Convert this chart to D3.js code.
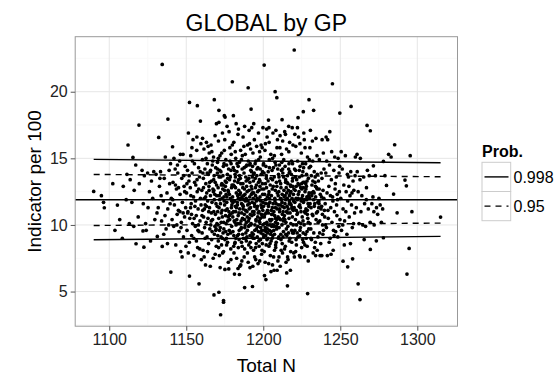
<!DOCTYPE html>
<html><head><meta charset="utf-8">
<script src="https://cdn.jsdelivr.net/npm/d3@7"></script>
<style>body{margin:0;background:#fff;} svg{display:block;font-family:"Liberation Sans",Arial,Helvetica,sans-serif;}</style>
</head><body><svg id="chart" width="558" height="375"></svg>
<script>
const chartTitle = "GLOBAL by GP";
const xLabel = "Total N";
const yLabel = "Indicator per 100";
const xTicks = [1100,1150,1200,1250,1300];
const yTicks = [5,10,15,20];
const xMinor = [1125,1175,1225,1275];
const yMinor = [2.5,7.5,12.5,17.5,22.5];
const legendTitle = "Prob.";
const probLevels = ["0.998","0.95"];
const limitN = [1089.9,1315.1];
const upper998 = [14.92,14.67];
const upper95 = [13.79,13.62];
const lower95 = [9.96,10.14];
const lower998 = [8.89,9.14];
const centreValue = 11.89;

const outlierPoints = [[1134.4,22.05],[1220.1,23.13],[1200.6,22.0],[1179.9,20.75],[1190.2,20.3],[1207.7,20.0],[1208.8,19.55],[1244.9,20.6],[1229.7,19.4],[1232.7,18.6],[1226,18.5],[1257,18.9],[1249.7,18.4],[1168.2,19.4],[1152.1,19.2],[1157.2,18.95],[1192.1,18.7],[1171.2,18.6],[1119.3,17.5],[1138.1,17.95],[1159.2,17.8],[1174.7,18.2],[1180.6,18.2],[1203.4,17.87],[1222.6,18.05],[1267.4,17.47],[1269.5,17.07],[1132.1,16.57],[1112.2,16.0],[1141.1,15.87],[1285.3,16.02],[1281.4,15.3],[1283,15.1],[1295.4,15.2],[1115.4,15.07],[1117.2,14.5],[1278,14.77],[1271.5,14.44],[1089.9,12.52],[1094.9,12.2],[1096.3,11.7],[1096.8,11.29],[1105.3,11.49],[1114.7,11.7],[1108.5,9.0],[1117.4,8.59],[1122.5,8.33],[1131.2,9.14],[1134.4,8.39],[1140,6.46],[1152.1,6.16],[1158.3,5.58],[1168,4.75],[1171.2,4.95],[1174.2,4.33],[1174.2,4.2],[1172.3,3.26],[1187.9,5.3],[1193,5.38],[1215.7,5.43],[1228.8,4.85],[1261.6,5.58],[1262.8,4.4],[1293.3,6.31],[1294.7,8.24],[1296.5,11.0],[1315.1,10.59],[1286.9,10.91],[1284.6,12.32],[1280,12.97],[1292,13.37],[1292.9,12.94],[1251.8,7.28],[1254.8,6.86],[1258,7.46],[1269.5,8.16],[1278,9.04],[1273.4,8.81],[1201.7,5.9],[1200.8,6.2],[1183.6,6.73],[1175.1,6.66],[1181.3,6.31],[1184.5,6.28]];

const cloudPoints = [
[1102.3,13.1],[1106.8,10.4],[1109.1,12.9],[1103.7,9.6],
[1111.5,13.8],[1113.6,13.4],[1116.2,12.6],[1118.8,10.6],[1113.0,10.1],[1119.5,13.1],[1115.9,9.9],[1111.0,11.9],
[1121.3,14.1],[1122.8,13.7],[1124.0,9.6],[1121.9,9.55],[1123.6,10.1],[1126.1,12.5],[1127.4,13.3],[1125.2,11.3],[1128.9,14.0],[1129.6,10.4],[1126.8,8.8],[1128.2,12.0],[1122.1,11.6],[1124.9,13.9],
[1130.4,13.8],[1131.8,11.3],[1132.6,12.9],[1133.3,14.0],[1134.0,10.3],[1135.1,11.8],[1135.7,13.5],[1136.4,15.1],[1136.9,9.7],[1137.5,12.4],[1138.0,11.2],[1138.6,10.0],[1139.2,13.1],[1139.8,14.6],[1133.7,12.2],[1131.0,10.9],[1136.2,10.7],[1137.8,8.6],[1139.5,11.6],[1135.4,9.3],[1132.9,13.5],[1138.9,14.1],
[1140.3,12.0],[1140.8,10.4],[1141.4,13.2],[1141.9,9.9],[1142.3,11.5],[1142.8,14.2],[1143.2,8.5],[1143.6,12.7],[1144.1,10.8],[1144.5,13.9],[1144.9,11.1],[1145.3,9.5],[1145.7,14.8],[1146.0,12.3],[1146.4,8.0],[1146.8,10.2],[1147.1,13.5],[1147.5,11.7],[1147.9,15.3],[1148.2,9.1],[1148.6,12.9],[1148.9,10.6],[1149.3,14.4],[1149.6,11.3],[1142.0,15.0],[1143.9,10.0],[1145.0,12.8],[1146.6,9.8],[1147.3,7.6],[1148.4,13.7],[1149.8,8.4],[1141.2,11.9],[1144.3,14.5],[1146.2,15.3],[1148.0,10.9],[1149.0,12.5],[1143.0,13.0],[1145.9,11.0],
[1150.2,12.4],[1150.5,9.6],[1150.8,14.1],[1151.1,11.0],[1151.4,16.9],[1151.7,13.3],[1152.0,8.7],[1152.3,10.5],[1152.6,12.8],[1152.9,15.2],[1153.2,11.6],[1153.5,9.2],[1153.8,13.9],[1154.1,10.1],[1154.4,16.4],[1154.7,12.1],[1155.0,7.7],[1155.3,14.6],[1155.6,11.4],[1155.9,9.9],[1156.2,13.0],[1156.5,10.7],[1156.8,15.6],[1157.1,12.5],[1157.4,8.3],[1157.7,11.2],[1158.0,14.3],[1158.3,9.5],[1158.6,13.6],[1158.9,10.3],[1159.2,12.0],[1159.5,16.1],[1159.8,7.4],[1150.9,10.9],[1151.9,13.7],[1153.0,12.2],[1154.0,14.8],[1154.9,9.0],[1156.0,11.8],[1157.0,13.4],[1157.9,10.0],[1158.8,8.2],[1159.6,11.5],[1151.3,7.9],[1152.8,11.3],[1153.7,15.8],[1155.4,13.2],[1156.6,8.8],[1158.1,12.7],[1159.1,14.0],[1150.4,13.1],[1155.1,10.5],[1157.6,9.6],[1153.4,10.8],[1156.9,16.6],
[1160.1,12.6],[1160.3,9.4],[1160.5,14.9],[1160.7,11.1],[1160.9,8.1],[1161.1,13.5],[1161.3,10.6],[1161.5,15.7],[1161.7,12.0],[1161.9,9.8],
[1162.1,14.2],[1162.3,11.5],[1162.5,7.0],[1162.7,13.1],[1162.9,10.2],[1163.1,16.2],[1163.3,12.4],[1163.5,9.1],[1163.7,14.6],[1163.9,11.8],
[1164.1,10.5],[1164.3,13.8],[1164.5,8.6],[1164.7,12.9],[1164.9,15.4],[1165.1,11.3],[1165.3,9.7],[1165.5,14.0],[1165.7,12.2],[1165.9,10.0],
[1166.1,16.0],[1166.3,13.3],[1166.5,8.9],[1166.7,11.7],[1166.9,14.5],[1167.1,10.4],[1167.3,12.7],[1167.5,7.5],[1167.7,15.1],[1167.9,11.0],
[1168.1,13.7],[1168.3,9.3],[1168.5,12.3],[1168.7,16.7],[1168.9,10.8],[1169.1,14.3],[1169.3,11.6],[1169.5,8.4],[1169.7,13.0],[1169.9,10.1],
[1160.6,16.5],[1161.6,7.6],[1162.6,12.1],[1163.6,13.9],[1164.6,11.0],[1165.6,6.9],[1166.6,15.5],[1167.6,12.5],[1168.6,9.9],[1169.6,17.6],
[1160.2,10.7],[1161.2,12.8],[1162.2,9.0],[1163.2,11.4],[1164.2,15.9],[1165.2,13.2],[1166.2,10.3],[1167.2,14.8],[1168.2,11.9],[1169.2,9.6],
[1160.8,13.9],[1161.8,11.2],[1162.8,15.0],[1163.8,8.0],[1164.8,12.6],[1165.8,14.1],[1166.8,9.5],[1167.8,13.4],[1168.8,7.8],[1169.8,12.2],
[1170.1,11.4],[1170.3,14.7],[1170.5,9.2],[1170.7,12.8],[1170.9,16.3],[1171.1,10.5],[1171.3,13.6],[1171.5,7.7],[1171.7,11.9],[1171.9,15.2],
[1172.1,9.8],[1172.3,12.4],[1172.5,14.0],[1172.7,10.9],[1172.9,8.5],[1173.1,13.1],[1173.3,11.1],[1173.5,16.9],[1173.7,12.7],[1173.9,9.4],
[1174.1,14.4],[1174.3,10.2],[1174.5,12.1],[1174.7,15.6],[1174.9,11.5],[1175.1,8.9],[1175.3,13.3],[1175.5,10.7],[1175.7,14.9],[1175.9,12.3],
[1176.1,9.0],[1176.3,11.7],[1176.5,17.4],[1176.7,13.8],[1176.9,10.3],[1177.1,12.6],[1177.3,7.2],[1177.5,14.2],[1177.7,11.0],[1177.9,9.6],
[1178.1,13.4],[1178.3,15.8],[1178.5,10.8],[1178.7,12.0],[1178.9,8.2],[1179.1,14.6],[1179.3,11.3],[1179.5,9.9],[1179.7,13.0],[1179.9,16.0],
[1170.2,13.9],[1170.6,10.0],[1171.0,8.3],[1171.4,12.2],[1171.8,14.1],[1172.2,11.6],[1172.6,9.1],[1173.0,15.4],[1173.4,10.6],[1173.8,13.7],
[1174.2,8.0],[1174.6,11.8],[1175.0,16.4],[1175.4,12.9],[1175.8,10.1],[1176.2,14.5],[1176.6,11.2],[1177.0,9.3],[1177.4,12.5],[1177.8,17.0],
[1178.2,10.4],[1178.6,13.6],[1179.0,7.4],[1179.4,12.8],[1179.8,10.9],[1170.4,11.0],[1171.6,9.6],[1172.8,13.0],[1173.6,7.9],[1174.8,12.6],
[1176.0,13.2],[1177.2,10.6],[1178.4,14.8],[1179.6,11.5],[1170.8,15.0],[1172.0,6.8],[1173.2,12.0],[1174.4,9.7],[1175.6,11.1],[1176.8,8.7],
[1178.0,12.3],[1179.2,15.3],[1175.2,18.1],[1177.6,6.7],[1171.2,17.7],
[1180.1,12.1],[1180.3,9.5],[1180.5,14.3],[1180.7,11.0],[1180.9,16.2],[1181.1,10.3],[1181.3,12.9],[1181.5,8.6],[1181.7,13.8],[1181.9,11.4],
[1182.1,15.0],[1182.3,10.0],[1182.5,12.4],[1182.7,7.5],[1182.9,14.0],[1183.1,11.7],[1183.3,9.2],[1183.5,13.2],[1183.7,10.7],[1183.9,17.2],
[1184.1,12.6],[1184.3,8.9],[1184.5,14.7],[1184.7,11.2],[1184.9,10.1],[1185.1,13.5],[1185.3,15.6],[1185.5,9.7],[1185.7,12.0],[1185.9,11.6],
[1186.1,7.3],[1186.3,14.2],[1186.5,10.5],[1186.7,12.8],[1186.9,16.6],[1187.1,9.0],[1187.3,11.9],[1187.5,13.9],[1187.7,10.8],[1187.9,8.2],
[1188.1,12.3],[1188.3,15.3],[1188.5,11.1],[1188.7,9.4],[1188.9,13.3],[1189.1,10.2],[1189.3,14.5],[1189.5,12.5],[1189.7,7.9],[1189.9,11.5],
[1180.2,10.6],[1180.6,13.0],[1181.0,7.9],[1181.4,11.8],[1181.8,15.5],[1182.2,9.0],[1182.6,11.3],[1183.0,14.6],[1183.4,12.2],[1183.8,8.3],
[1184.2,10.9],[1184.6,13.7],[1185.0,11.9],[1185.4,7.0],[1185.8,14.9],[1186.2,12.1],[1186.6,9.3],[1187.0,11.4],[1187.4,15.9],[1187.8,12.7],
[1188.2,10.0],[1188.6,13.6],[1189.0,8.8],[1189.4,11.0],[1189.8,16.0],[1180.4,11.7],[1181.2,14.1],[1182.0,12.8],[1182.8,10.4],[1183.6,16.8],
[1184.4,9.6],[1185.2,12.4],[1186.0,10.9],[1186.8,13.1],[1187.6,7.6],[1188.4,11.8],[1189.2,12.9],[1180.8,8.4],[1181.6,10.2],[1182.4,17.6],
[1183.2,11.5],[1184.0,13.4],[1184.8,6.9],[1185.6,10.3],[1186.4,15.2],[1187.2,12.2],[1188.0,9.8],[1188.8,14.4],[1189.6,10.6],[1183.9,12.0],
[1185.9,8.7],[1187.9,17.4],[1181.9,13.6],[1186.9,11.2],[1189.4,9.1],
[1190.1,11.8],[1190.3,14.8],[1190.5,9.9],[1190.7,12.6],[1190.9,10.5],[1191.1,16.1],[1191.3,13.2],[1191.5,8.7],[1191.7,11.3],[1191.9,14.1],
[1192.1,10.1],[1192.3,12.3],[1192.5,17.3],[1192.7,9.4],[1192.9,13.6],[1193.1,11.0],[1193.3,15.4],[1193.5,12.0],[1193.7,8.1],[1193.9,10.8],
[1194.1,13.9],[1194.3,11.6],[1194.5,9.6],[1194.7,14.6],[1194.9,12.8],[1195.1,7.4],[1195.3,10.4],[1195.5,13.0],[1195.7,15.9],[1195.9,11.2],
[1196.1,9.1],[1196.3,12.5],[1196.5,14.3],[1196.7,10.9],[1196.9,16.9],[1197.1,11.9],[1197.3,8.4],[1197.5,13.4],[1197.7,10.2],[1197.9,12.1],
[1198.1,15.1],[1198.3,9.8],[1198.5,11.5],[1198.7,13.8],[1198.9,7.8],[1199.1,12.7],[1199.3,10.6],[1199.5,14.0],[1199.7,11.1],[1199.9,9.3],
[1190.2,7.2],[1190.6,13.5],[1191.0,11.6],[1191.4,9.2],[1191.8,15.7],[1192.2,12.9],[1192.6,10.7],[1193.0,14.4],[1193.4,9.0],[1193.8,12.4],
[1194.2,16.4],[1194.6,10.0],[1195.0,12.2],[1195.4,8.6],[1195.8,13.7],[1196.2,11.4],[1196.6,7.1],[1197.0,14.9],[1197.4,10.3],[1197.8,12.9],
[1198.2,8.9],[1198.6,16.0],[1199.0,11.3],[1199.4,13.1],[1199.8,10.0],[1190.4,10.3],[1191.2,12.1],[1192.0,8.3],[1192.8,11.7],[1193.6,13.3],
[1194.4,7.6],[1195.2,14.8],[1196.0,12.0],[1196.8,9.5],[1197.6,15.5],[1198.4,11.8],[1199.2,8.1],[1190.8,17.1],[1191.6,10.8],[1192.4,14.0],
[1193.2,6.9],[1194.0,11.0],[1194.8,13.5],[1195.6,9.7],[1196.4,10.6],[1197.2,12.6],[1198.0,14.2],[1198.8,10.8],[1199.6,12.3],[1191.4,6.8],
[1193.8,17.6],[1195.5,11.8],[1197.7,7.3],[1199.3,15.8],[1192.9,12.4],[1196.9,13.2],[1198.5,9.4],[1194.2,9.0],[1190.9,14.5],[1199.8,17.3],
[1200.1,11.4],[1200.3,9.1],[1200.5,13.9],[1200.7,10.6],[1200.9,12.3],[1201.1,15.6],[1201.3,9.8],[1201.5,11.9],[1201.7,14.4],[1201.9,8.5],
[1202.1,12.8],[1202.3,10.2],[1202.5,16.6],[1202.7,11.1],[1202.9,9.4],[1203.1,13.3],[1203.3,10.9],[1203.5,7.1],[1203.7,12.5],[1203.9,14.9],
[1204.1,9.6],[1204.3,11.7],[1204.5,13.0],[1204.7,10.3],[1204.9,15.3],[1205.1,8.8],[1205.3,12.2],[1205.5,9.9],[1205.7,14.1],[1205.9,11.3],
[1206.1,10.0],[1206.3,16.9],[1206.5,12.9],[1206.7,7.6],[1206.9,11.0],[1207.1,13.6],[1207.3,9.3],[1207.5,12.0],[1207.7,14.7],[1207.9,10.5],
[1208.1,8.3],[1208.3,11.6],[1208.5,13.2],[1208.7,9.7],[1208.9,15.8],[1209.1,12.4],[1209.3,10.1],[1209.5,7.3],[1209.7,11.5],[1209.9,13.8],
[1200.2,14.6],[1200.6,8.0],[1201.0,10.8],[1201.4,13.1],[1201.8,9.5],[1202.2,17.2],[1202.6,12.1],[1203.0,9.0],[1203.4,11.4],[1203.8,16.2],
[1204.2,10.4],[1204.6,7.7],[1205.0,13.5],[1205.4,10.8],[1205.8,12.7],[1206.2,9.2],[1206.6,14.3],[1207.0,6.6],[1207.4,10.7],[1207.8,12.6],
[1208.2,17.1],[1208.6,9.9],[1209.0,11.2],[1209.4,14.2],[1209.8,9.0],[1200.4,12.7],[1201.2,7.2],[1202.0,13.5],[1202.8,10.0],[1203.6,12.3],
[1204.4,8.6],[1205.2,11.1],[1206.0,15.0],[1206.8,9.6],[1207.6,11.8],[1208.4,8.7],[1209.2,16.4],[1200.8,9.6],[1201.6,11.6],[1202.4,8.9],
[1203.2,14.0],[1204.0,12.0],[1204.8,9.3],[1205.6,10.4],[1206.4,11.6],[1207.2,15.2],[1208.0,10.2],[1208.8,12.9],[1209.6,10.6],[1205.0,6.5],
[1206.0,7.0],[1203.7,17.3],[1207.3,8.1],[1201.4,16.1],[1209.0,6.6],
[1210.1,12.5],[1210.3,9.8],[1210.5,14.5],[1210.7,11.2],[1210.9,16.7],[1211.1,10.4],[1211.3,13.1],[1211.5,8.9],[1211.7,11.9],[1211.9,15.3],
[1212.1,10.0],[1212.3,12.3],[1212.5,7.9],[1212.7,13.9],[1212.9,11.0],[1213.1,9.5],[1213.3,14.9],[1213.5,12.1],[1213.7,10.7],[1213.9,17.0],
[1214.1,11.6],[1214.3,8.4],[1214.5,13.4],[1214.7,10.2],[1214.9,12.8],[1215.1,15.7],[1215.3,9.2],[1215.5,11.4],[1215.7,13.7],[1215.9,10.9],
[1216.1,7.4],[1216.3,12.6],[1216.5,14.2],[1216.7,10.5],[1216.9,11.8],[1217.1,16.2],[1217.3,9.0],[1217.5,12.4],[1217.7,13.0],[1217.9,10.1],
[1218.1,11.5],[1218.3,14.8],[1218.5,8.7],[1218.7,12.0],[1218.9,10.6],[1219.1,13.5],[1219.3,16.0],[1219.5,11.1],[1219.7,9.4],[1219.9,12.7],
[1210.2,7.6],[1210.6,13.3],[1211.0,11.5],[1211.4,9.3],[1211.8,14.1],[1212.2,11.7],[1212.6,16.3],[1213.0,10.3],[1213.4,12.6],[1213.8,8.2],
[1214.2,14.4],[1214.6,11.9],[1215.0,9.7],[1215.4,13.2],[1215.8,7.6],[1216.2,11.2],[1216.6,15.5],[1217.0,12.2],[1217.4,10.9],[1217.8,8.0],
[1218.2,13.8],[1218.6,11.3],[1219.0,14.6],[1219.4,10.0],[1219.8,7.9],[1210.4,10.5],[1211.2,12.0],[1212.0,14.7],[1212.8,9.1],[1213.6,11.3],
[1214.4,16.8],[1215.2,12.4],[1216.0,9.9],[1216.8,13.9],[1217.6,11.6],[1218.4,9.6],[1219.2,12.9],[1210.8,15.8],[1211.6,8.1],[1212.4,10.8],
[1213.2,13.6],[1214.0,10.4],[1214.8,7.2],[1215.6,12.0],[1216.4,9.4],[1217.2,14.0],[1218.0,12.5],[1218.8,17.3],[1219.6,11.8],[1215.2,6.4],
[1217.6,6.6],[1212.2,17.9],[1216.5,17.4],[1211.0,6.9],
[1220.1,11.3],[1220.3,14.2],[1220.5,9.6],[1220.7,12.6],[1220.9,10.4],[1221.1,15.9],[1221.3,12.0],[1221.5,8.5],[1221.7,13.4],[1221.9,10.8],
[1222.1,11.9],[1222.3,14.8],[1222.5,9.1],[1222.7,12.3],[1222.9,16.6],[1223.1,10.2],[1223.3,13.0],[1223.5,7.7],[1223.7,11.5],[1223.9,14.4],
[1224.1,9.8],[1224.3,12.8],[1224.5,11.0],[1224.7,15.4],[1224.9,8.3],[1225.1,13.7],[1225.3,10.6],[1225.5,12.2],[1225.7,14.0],[1225.9,9.4],
[1226.1,11.7],[1226.3,16.9],[1226.5,10.0],[1226.7,13.2],[1226.9,7.6],[1227.1,12.5],[1227.3,10.9],[1227.5,14.6],[1227.7,11.2],[1227.9,9.0],
[1228.1,13.8],[1228.3,12.1],[1228.5,8.4],[1228.7,15.1],[1228.9,10.5],[1229.1,11.6],[1229.3,13.5],[1229.5,9.7],[1229.7,12.4],[1229.9,14.9],
[1220.2,7.6],[1220.8,13.6],[1221.4,11.1],[1222.0,9.4],[1222.6,13.1],[1223.2,11.4],[1223.8,16.1],[1224.4,10.1],[1225.0,12.7],[1225.6,8.9],
[1226.2,14.3],[1226.8,11.0],[1227.4,9.3],[1228.0,12.9],[1228.6,10.8],[1229.2,7.3],[1220.5,16.8],[1221.6,10.0],[1222.7,12.0],[1223.8,9.6],
[1224.9,13.1],[1226.0,12.8],[1227.1,15.8],[1228.2,11.9],[1229.3,10.2],[1221.0,8.0],[1222.2,17.3],[1223.4,14.1],[1224.6,11.8],[1225.8,10.3],
[1227.0,8.5],[1228.4,13.3],[1229.6,11.4],[1224.0,7.6],[1226.6,16.4],
[1230.1,12.0],[1230.4,10.1],[1230.7,14.4],[1231.0,11.3],[1231.3,8.9],[1231.6,13.0],[1231.9,16.3],[1232.2,10.7],[1232.5,12.5],[1232.8,9.4],
[1233.1,14.0],[1233.4,11.6],[1233.7,13.6],[1234.0,7.7],[1234.3,10.4],[1234.6,12.8],[1234.9,15.2],[1235.2,11.0],[1235.5,9.1],[1235.8,13.3],
[1236.1,11.8],[1236.4,14.9],[1236.7,10.3],[1237.0,12.3],[1237.3,8.6],[1237.6,13.9],[1237.9,11.4],[1238.2,16.4],[1238.5,10.0],[1238.8,12.6],
[1239.1,9.6],[1239.4,14.2],[1239.7,11.1],[1230.3,15.8],[1230.9,9.7],[1231.5,12.2],[1232.1,14.8],[1232.7,11.9],[1233.3,8.3],[1233.9,12.9],
[1234.5,10.9],[1235.1,13.8],[1235.7,10.2],[1236.3,12.7],[1236.9,7.7],[1237.5,11.2],[1238.1,13.5],[1238.7,9.3],[1239.3,12.0],[1239.9,10.6],
[1230.6,17.1],[1231.8,10.8],[1233.0,12.4],[1234.2,16.5],[1235.4,11.7],[1236.6,9.4],[1237.8,12.1],[1239.0,15.4],[1232.4,7.9],[1235.0,8.1],
[1238.0,7.7],[1233.6,13.2],[1236.0,11.3],[1238.4,10.8],[1231.2,13.7],
[1240.2,11.6],[1240.6,13.9],[1241.0,9.8],[1241.4,12.4],[1241.8,16.4],[1242.2,10.5],[1242.6,12.9],[1243.0,14.5],[1243.4,9.0],[1243.8,11.3],
[1244.2,13.4],[1244.6,10.2],[1245.0,12.1],[1245.4,8.1],[1245.8,14.1],[1246.2,11.0],[1246.6,12.7],[1247.0,9.5],[1247.4,13.6],[1247.8,10.7],
[1248.2,11.9],[1248.6,15.0],[1249.0,9.9],[1249.4,12.5],[1249.8,10.4],[1240.4,10.0],[1241.2,14.8],[1242.0,11.1],[1242.8,8.7],[1243.6,12.2],
[1244.4,15.5],[1245.2,11.8],[1246.0,9.2],[1246.8,13.1],[1247.6,11.5],[1248.4,9.1],[1249.2,13.9],[1240.8,16.6],[1243.2,17.0],[1245.6,9.6],
[1248.0,12.3],[1241.6,7.7],[1244.0,7.8],[1246.4,15.1],[1249.6,14.4],
[1250.3,12.0],[1250.8,9.6],[1251.3,14.2],[1251.8,11.2],[1252.3,13.0],[1252.8,10.3],[1253.3,15.2],[1253.8,12.5],[1254.3,9.3],[1254.8,11.8],
[1255.3,13.6],[1255.8,10.6],[1256.3,12.2],[1256.8,14.0],[1257.3,11.5],[1257.8,9.8],[1258.3,13.3],[1258.8,12.6],[1259.3,10.9],[1259.8,15.1],
[1250.6,15.5],[1251.6,10.0],[1252.6,8.5],[1253.6,11.0],[1254.6,13.8],[1255.6,12.9],[1256.6,8.6],[1257.6,12.4],[1258.6,10.1],[1259.6,13.7],
[1260.4,11.3],[1261.0,14.0],[1261.6,12.5],[1262.2,10.1],[1262.8,13.4],[1263.4,11.0],[1264.0,12.2],[1264.6,10.0],[1265.2,13.6],[1265.8,11.6],
[1266.4,9.9],[1267.0,12.8],[1267.6,14.1],[1268.2,11.2],[1268.8,13.7],[1269.4,10.2],[1260.9,15.3],[1263.0,15.0],[1265.5,8.9],[1266.9,11.9],
[1270.5,11.6],[1271.2,12.1],[1272.0,10.0],[1272.8,13.7],[1273.5,11.3],[1274.3,10.8],[1275.1,12.0],[1275.9,11.5],[1276.7,10.2],[1277.5,11.2],[1279.0,13.7],[1271.8,11.0]
];

const corePoints = [
[1166.3,10.9],[1167.9,12.6],[1169.4,9.7],[1171.3,11.3],[1172.7,10.2],[1174.0,13.0],[1175.6,9.5],[1176.4,12.1],[1178.0,10.7],[1179.5,11.8],
[1180.9,9.2],[1182.1,11.0],[1183.5,10.1],[1184.6,12.3],[1185.8,9.8],[1186.7,11.5],[1187.8,10.4],[1188.9,12.0],[1189.7,9.6],[1190.8,11.2],
[1191.9,10.0],[1192.6,12.7],[1193.5,9.3],[1194.4,11.4],[1195.3,10.3],[1196.5,9.9],[1197.3,11.0],[1198.1,10.5],[1199.0,9.6],[1199.9,11.7],
[1200.9,10.1],[1201.8,10.9],[1202.6,9.7],[1203.5,11.6],[1204.3,10.0],[1205.2,9.5],[1206.1,10.8],[1207.0,9.9],[1207.9,11.3],[1208.8,10.4],
[1209.7,12.2],[1210.6,11.0],[1211.5,12.8],[1212.4,11.4],[1213.3,10.5],[1214.2,12.2],[1215.1,11.0],[1216.0,13.1],[1216.9,11.6],[1217.8,12.9],
[1218.7,11.2],[1219.6,12.3],[1220.5,11.7],[1221.4,12.9],[1222.3,10.9],[1223.2,12.5],[1224.1,11.3],[1225.0,12.0],[1225.9,13.2],[1226.8,11.9],
[1227.7,12.7],[1228.6,11.1],[1229.5,12.2],[1230.4,11.6],[1231.3,12.4],[1232.2,13.3],[1233.1,11.4],[1234.0,12.1],[1235.0,12.7],[1236.2,11.6],
[1168.8,13.2],[1170.3,14.2],[1172.4,13.6],[1174.5,14.6],[1176.9,13.5],[1179.0,14.1],[1181.4,13.3],[1183.7,14.4],[1185.4,13.1],[1187.6,14.3],
[1189.8,13.4],[1191.5,14.6],[1193.7,13.8],[1195.9,14.2],[1197.9,13.3],[1200.0,14.5],[1202.0,13.7],[1204.0,14.3],[1206.0,13.4],[1208.2,14.5],
[1210.2,13.6],[1212.6,14.2],[1214.5,13.2],[1216.7,14.6],[1218.9,13.3],[1221.0,14.1],[1223.4,13.6],[1225.5,14.6],[1227.6,13.1],[1229.8,14.3],
[1170.8,8.8],[1173.5,9.0],[1176.2,8.5],[1178.8,9.4],[1181.7,8.7],[1184.0,9.3],[1186.3,8.4],[1188.5,9.0],[1190.6,8.5],[1192.8,9.1],
[1195.0,8.3],[1197.1,8.8],[1199.4,8.6],[1201.5,9.2],[1203.7,8.4],[1205.8,9.0],[1208.0,8.5],[1210.1,9.1],[1212.3,8.6],[1214.6,9.3],
[1216.8,8.8],[1219.1,9.4],[1221.3,8.9],[1223.6,9.2],[1226.1,8.7],[1228.4,9.5],[1231.0,9.0],[1233.8,8.7]
];

const svg = d3.select("#chart");
const W = 558, H = 375;
const panel = {left: 75.2, right: 457.5, top: 36.7, bottom: 326.2};

const x = d3.scaleLinear().domain([1077.9, 1326.1]).range([panel.left, panel.right]);
const y = d3.scaleLinear().domain([2.4, 24.13]).range([panel.bottom, panel.top]);

svg.append("rect").attr("width", W).attr("height", H).attr("fill", "#fff");

const g = svg.append("g");
g.selectAll(".xminor").data(xMinor).enter().append("line")
  .attr("x1", d => x(d)).attr("x2", d => x(d)).attr("y1", panel.top).attr("y2", panel.bottom)
  .attr("stroke", "#f7f7f7").attr("stroke-width", 0.8);
g.selectAll(".yminor").data(yMinor).enter().append("line")
  .attr("y1", d => y(d)).attr("y2", d => y(d)).attr("x1", panel.left).attr("x2", panel.right)
  .attr("stroke", "#f7f7f7").attr("stroke-width", 0.8);
g.selectAll(".xmajor").data(xTicks).enter().append("line")
  .attr("x1", d => x(d)).attr("x2", d => x(d)).attr("y1", panel.top).attr("y2", panel.bottom)
  .attr("stroke", "#e6e6e6").attr("stroke-width", 1);
g.selectAll(".ymajor").data(yTicks).enter().append("line")
  .attr("y1", d => y(d)).attr("y2", d => y(d)).attr("x1", panel.left).attr("x2", panel.right)
  .attr("stroke", "#e6e6e6").attr("stroke-width", 1);

const allPoints = cloudPoints.concat(corePoints, outlierPoints);
g.selectAll(".pt").data(allPoints).enter().append("circle")
  .attr("cx", d => x(d[0])).attr("cy", d => y(d[1])).attr("r", 1.85).attr("fill", "#000");

const limits = [
  {vals: upper998, dash: null},
  {vals: lower998, dash: null},
  {vals: upper95, dash: "6,5"},
  {vals: lower95, dash: "6,5"}
];
const lineGen = d3.line().x(d => x(d[0])).y(d => y(d[1]));
limits.forEach(l => {
  g.append("path").attr("d", lineGen(limitN.map((n, i) => [n, l.vals[i]])))
    .attr("fill", "none").attr("stroke", "#000").attr("stroke-width", 1.4)
    .attr("stroke-dasharray", l.dash);
});
g.append("line").attr("x1", panel.left).attr("x2", panel.right)
  .attr("y1", y(centreValue)).attr("y2", y(centreValue))
  .attr("stroke", "#000").attr("stroke-width", 1.4);

svg.append("rect").attr("x", panel.left).attr("y", panel.top)
  .attr("width", panel.right - panel.left).attr("height", panel.bottom - panel.top)
  .attr("fill", "none").attr("stroke", "#999").attr("stroke-width", 1);

const xAxis = svg.append("g").attr("transform", `translate(0,${panel.bottom})`)
  .call(d3.axisBottom(x).tickValues(xTicks).tickSize(4.5).tickPadding(3).tickFormat(d3.format("d")));
const yAxis = svg.append("g").attr("transform", `translate(${panel.left},0)`)
  .call(d3.axisLeft(y).tickValues(yTicks).tickSize(4.5).tickPadding(3).tickFormat(d3.format("d")));
[xAxis, yAxis].forEach(a => {
  a.select(".domain").remove();
  a.selectAll(".tick line").attr("stroke", "#555").attr("stroke-width", 1);
  a.selectAll(".tick text").attr("fill", "#222").style("font-size", "16px")
    .style("font-family", '"Liberation Sans",Arial,sans-serif');
});

svg.append("text").attr("x", (panel.left + panel.right) / 2).attr("y", 30.5)
  .attr("text-anchor", "middle").style("font-size", "23px").attr("fill", "#000").text(chartTitle);
svg.append("text").attr("x", (panel.left + panel.right) / 2).attr("y", 371.5)
  .attr("text-anchor", "middle").style("font-size", "19px").attr("fill", "#000").text(xLabel);
svg.append("text").attr("transform", `translate(40.5,${(panel.top + panel.bottom) / 2}) rotate(-90)`)
  .attr("text-anchor", "middle").style("font-size", "19px").attr("fill", "#000").text(yLabel);

const lg = svg.append("g");
lg.append("text").attr("x", 482).attr("y", 157).style("font-size", "16px").style("font-weight", "bold")
  .attr("fill", "#000").text(legendTitle);
const keyH = 29.2, keyW = 28.7, keyTop = 162.3;
probLevels.forEach((p, i) => {
  const ky = keyTop + i * keyH;
  lg.append("rect").attr("x", 482).attr("y", ky).attr("width", keyW).attr("height", keyH)
    .attr("fill", "#fff").attr("stroke", "#ccc").attr("stroke-width", 1);
  lg.append("line").attr("x1", 484.5).attr("x2", 508.5).attr("y1", ky + keyH / 2).attr("y2", ky + keyH / 2)
    .attr("stroke", "#000").attr("stroke-width", 1.4).attr("stroke-dasharray", i === 1 ? "6,5" : null);
  lg.append("text").attr("x", 513.5).attr("y", ky + keyH / 2 + 5.8).style("font-size", "16px")
    .attr("fill", "#000").text(p);
});
</script></body></html>
